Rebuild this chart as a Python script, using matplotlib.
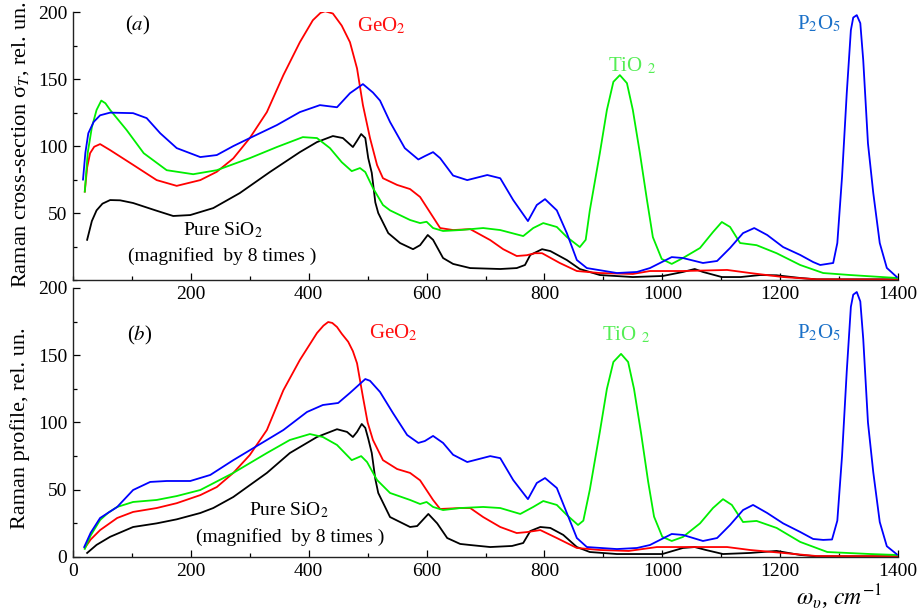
import numpy as np
import matplotlib
matplotlib.use("Agg")
import matplotlib.pyplot as plt
from matplotlib.ticker import MultipleLocator

plt.rcParams['font.family'] = ['Liberation Serif', 'DejaVu Serif']
plt.rcParams['mathtext.fontset'] = 'stix'

# ---- panel (a): Raman cross-section ----
a_sio2_x = [24, 32, 40, 50, 63, 80, 102, 140, 170, 199, 238, 283, 334, 385, 414, 441, 458, 475,
            482, 489, 496, 501, 507, 513, 518, 535, 555, 577, 589, 602, 611, 628, 645, 674, 725,
            753, 767, 776, 796, 810, 838, 860, 894, 950, 1001, 1035, 1055, 1069, 1101, 1133,
            1166, 1194, 1234, 1262, 1398]
a_sio2_y = [30, 44, 52, 57, 59.7, 59.5, 57.5, 52, 47.8, 48.5, 53.7, 64.9, 80.6, 95.5, 103, 107.5,
            106, 99.3, 104, 109, 106, 91, 80, 58, 50, 35, 27.6, 23, 26, 33.6, 30, 16.4, 12, 8.9,
            8.2, 8.9, 11.2, 18.7, 23, 21.6, 14.9, 8.2, 3.7, 2.2, 3, 6, 8.2, 6, 2.2, 2.2, 3.7, 3.5,
            1.5, 0.5, 0.5]

a_geo2_x = [20, 24, 29, 36, 46, 63, 102, 142, 176, 216, 244, 272, 300, 329, 357, 385, 407, 420,
            428, 441, 456, 470, 482, 492, 504, 516, 526, 550, 572, 589, 600, 623, 645, 674, 708,
            730, 753, 770, 784, 796, 826, 855, 894, 950, 979, 1035, 1110, 1149, 1205, 1262, 1398]
a_geo2_y = [66, 84, 94.7, 99.5, 101.5, 97, 86, 74.6, 70.3, 74.6, 80.8, 90.8, 106, 125.4, 153,
            177.6, 194, 199.5, 200.7, 199, 190, 177.6, 158, 130.6, 106, 85.8, 76, 71, 67.9, 62,
            54.5, 38.8, 37.3, 38, 29.8, 23, 17.9, 18.5, 20, 20, 12.7, 6.7, 5.2, 4.5, 6.7, 6.7, 7.5,
            5.2, 2.2, 0.5, 0.3]

a_tio2_x = [20, 25, 32, 40, 48, 55, 63, 91, 120, 159, 204, 244, 300, 346, 390, 414, 436, 456, 473,
            487, 496, 509, 526, 538, 572, 589, 600, 611, 628, 657, 696, 725, 764, 781, 798, 821,
            838, 860, 870, 877, 894, 906, 917, 928, 940, 950, 962, 974, 984, 999, 1016, 1035,
            1064, 1086, 1101, 1115, 1132, 1160, 1194, 1234, 1273, 1319, 1398]
a_tio2_y = [66, 95, 114, 127, 134, 132, 127, 112, 94.7, 82, 79, 82, 91, 99.3, 106.7, 106, 98.5, 88,
            81.3, 83.6, 80.6, 68.7, 56, 52, 44.8, 42.5, 43.5, 38.8, 36.6, 37.3, 38.8, 37.3, 32.8,
            38.8, 42.5, 39.6, 32.1, 24.6, 30, 52, 94.7, 127, 148, 153, 147, 127, 94.7, 59.7, 32,
            15.7, 12, 16.4, 23.9, 35.8, 43.3, 39.6, 27.6, 26, 20, 11.2, 5.2, 3.7, 1.5]

a_p2o5_x = [17, 21, 26, 35, 46, 63, 102, 125, 148, 176, 216, 244, 272, 300, 346, 385, 419, 448,
            470, 492, 509, 521, 538, 563, 586, 597, 611, 623, 645, 669, 703, 725, 747, 772, 787,
            801, 821, 838, 855, 872, 923, 957, 979, 1016, 1035, 1069, 1093, 1115, 1137, 1156,
            1178, 1205, 1234, 1256, 1268, 1290, 1297, 1305, 1313, 1320, 1324, 1330, 1336, 1341,
            1349, 1358, 1369, 1381, 1398]
a_p2o5_y = [75, 95, 109.6, 118, 123, 125, 124.6, 120.9, 109.6, 98.5, 91.8, 93.3, 100, 106, 115.7,
            125.4, 130.6, 129, 139.5, 146.3, 140, 134, 118, 98.5, 90, 92.5, 95.5, 91, 78, 74.6,
            78.4, 76, 59.7, 44, 56, 60.4, 52, 35, 14.9, 8.9, 5.2, 6, 8.9, 17.1, 16.4, 12.7, 14.2,
            23.9, 35, 38.8, 33.6, 24.6, 18.7, 13.4, 11.2, 12.7, 27.6, 77, 139.5, 186.6, 196,
            197.8, 191.8, 164, 102, 65, 27.6, 9, 2.2]

# ---- panel (b): Raman profile ----
b_sio2_x = [24, 40, 63, 102, 142, 176, 216, 238, 272, 329, 368, 414, 448, 465, 475, 482, 490, 496,
            501, 507, 513, 518, 538, 572, 584, 603, 618, 635, 657, 674, 708, 745, 764, 776, 793,
            810, 832, 855, 877, 923, 1000, 1035, 1055, 1074, 1103, 1149, 1194, 1234, 1262, 1398]
b_sio2_y = [3, 9, 15, 22.3, 25, 28, 32.7, 36.4, 44.6, 62.5, 77.3, 89.2, 95, 93, 89.2, 93, 98.9, 96,
            88, 77.3, 58, 47.6, 29.7, 22.3, 23, 32, 25, 14.1, 9.7, 8.9, 7.4, 8.2, 10.4, 19.3, 22.3,
            21.6, 16.4, 7.4, 3.7, 2.2, 2.2, 6.7, 7.4, 5.2, 2.2, 3, 4.5, 1.5, 0.5, 0.5]

b_geo2_x = [20, 30, 46, 75, 102, 142, 176, 216, 244, 272, 300, 329, 357, 385, 414, 425, 433, 440,
            448, 456, 467, 475, 482, 492, 500, 509, 526, 550, 572, 589, 611, 623, 657, 674, 696,
            725, 753, 770, 793, 821, 855, 894, 943, 991, 1035, 1110, 1149, 1205, 1262, 1398]
b_geo2_y = [6.7, 13, 20, 29, 33.5, 36.4, 40, 46, 52, 62.5, 75.8, 94.4, 124, 146.5, 166.5, 172,
            174.7, 174, 171, 166, 160, 153, 144, 119, 100, 87, 72, 65.4, 62.5, 57, 42.4, 35.7,
            36.4, 36.4, 29.7, 22.3, 17.8, 18.5, 20, 14.1, 6.7, 5.2, 4.5, 7.4, 7.4, 7.4, 5.2, 3,
            0.7, 0.5]

b_tio2_x = [20, 30, 46, 60, 75, 102, 142, 176, 216, 272, 329, 368, 402, 424, 448, 473, 489, 499,
            516, 538, 572, 589, 600, 611, 628, 657, 696, 725, 759, 781, 798, 821, 838, 857, 866,
            877, 894, 906, 917, 930, 942, 952, 964, 976, 986, 1000, 1016, 1035, 1064, 1086, 1103,
            1118, 1137, 1160, 1194, 1234, 1280, 1353, 1398]
b_tio2_y = [6, 16, 27.5, 33, 37.2, 40.9, 42.4, 45.3, 49.8, 62.5, 77.3, 87, 91.4, 89.2, 83.3, 72,
            75, 70.6, 57.2, 47.6, 42.4, 39.4, 40.9, 37.2, 34.9, 36.4, 37.2, 36.4, 32, 37.2, 41.6,
            38.7, 31.2, 23.8, 27, 50, 93, 125, 145, 151, 145, 125, 92, 56, 30, 15, 11.9, 14.9, 25,
            36.4, 43, 38.7, 26, 26.8, 21.6, 11.2, 3.7, 2.2, 1.5]

b_p2o5_x = [19, 30, 46, 75, 102, 131, 159, 199, 233, 272, 329, 357, 397, 424, 450, 470, 496, 504,
            521, 543, 567, 586, 597, 611, 628, 645, 669, 708, 725, 747, 772, 787, 801, 821, 838,
            855, 872, 923, 957, 979, 1016, 1035, 1069, 1093, 1115, 1137, 1154, 1178, 1205, 1234,
            1256, 1273, 1288, 1297, 1305, 1313, 1320, 1324, 1330, 1336, 1341, 1349, 1358, 1369,
            1381, 1398]
b_p2o5_y = [7.4, 18, 29, 37.2, 49.8, 55.8, 56.5, 56.5, 61, 72, 87, 94.4, 107.8, 113, 114.5, 122,
            132.3, 131, 122.7, 107, 90.7, 84.8, 86.2, 90, 84.8, 76, 70.6, 75, 73.5, 57.2, 43, 55,
            58.7, 51.3, 32.7, 14.1, 7.4, 5.9, 6.7, 8.9, 17.1, 16.4, 11.9, 14.1, 23.8, 34.9, 38.7,
            32.7, 25, 18.6, 13.4, 12.7, 13, 27, 75, 138, 186, 195, 197, 190, 162, 100, 63, 26, 8,
            2]

LW = 1.3


def style_axis(ax, xticks, yticks):
    ax.set_xlim(0, 1400)
    ax.set_ylim(0, 200)
    ax.spines['top'].set_visible(False)
    ax.spines['right'].set_visible(False)
    for s in ('left', 'bottom'):
        ax.spines[s].set_linewidth(1.0)
        ax.spines[s].set_color('#222222')
    ax.set_xticks(xticks)
    ax.set_yticks(yticks)
    ax.xaxis.set_minor_locator(MultipleLocator(100))
    ax.yaxis.set_minor_locator(MultipleLocator(25))
    ax.tick_params(which='both', direction='in', top=False, right=False, labelsize=14,
                   width=0.9, pad=4)
    ax.tick_params(which='major', length=5)
    ax.tick_params(which='minor', length=3)


fig = plt.figure(figsize=(9.17, 6.10), dpi=100)
ax1 = fig.add_axes([0.0796, 0.541, 0.8997, 0.439])
ax2 = fig.add_axes([0.0796, 0.0869, 0.8997, 0.441])
ax2.set_zorder(0)
ax1.set_zorder(1)
ax1.patch.set_alpha(0)

for ax, data in ((ax1, (a_sio2_x, a_sio2_y, a_geo2_x, a_geo2_y, a_tio2_x, a_tio2_y, a_p2o5_x, a_p2o5_y)),
                 (ax2, (b_sio2_x, b_sio2_y, b_geo2_x, b_geo2_y, b_tio2_x, b_tio2_y, b_p2o5_x, b_p2o5_y))):
    sx, sy, gx, gy, tx, ty, px, py = data
    ax.plot(sx, sy, color='black', lw=LW)
    ax.plot(gx, gy, color='#ff0000', lw=LW)
    ax.plot(tx, ty, color='#00ee00', lw=LW)
    ax.plot(px, py, color='#0000ff', lw=LW)

style_axis(ax1, [200, 400, 600, 800, 1000, 1200, 1400], [50, 100, 150, 200])
style_axis(ax2, [0, 200, 400, 600, 800, 1000, 1200, 1400], [0, 50, 100, 150, 200])

fs = 15
ax1.text(109, 190, r'($\mathit{a}$)', fontsize=fs, ha='center', va='center')
ax1.text(524, 190, r'GeO$_2$', fontsize=fs, ha='center', va='center', color='#ff1010')
ax1.text(949, 160, r'TiO $_2$', fontsize=fs, ha='center', va='center', color='#55ee55')
ax1.text(1266, 191, r'P$_2$O$_5$', fontsize=fs, ha='center', va='center', color='#1a70c8')
ax1.text(255, 37.3, r'Pure SiO$_2$', fontsize=14, ha='center', va='center')
ax1.text(253, 17.9, '(magnified  by 8 times )', fontsize=14, ha='center', va='center')

ax2.text(114, 165, r'($\mathit{b}$)', fontsize=fs, ha='center', va='center')
ax2.text(543, 166.5, r'GeO$_2$', fontsize=fs, ha='center', va='center', color='#ff1010')
ax2.text(938, 165, r'TiO $_2$', fontsize=fs, ha='center', va='center', color='#55ee55')
ax2.text(1266, 166.5, r'P$_2$O$_5$', fontsize=fs, ha='center', va='center', color='#1a70c8')
ax2.text(367, 35, r'Pure SiO$_2$', fontsize=14, ha='center', va='center')
ax2.text(368, 15, '(magnified  by 8 times )', fontsize=14, ha='center', va='center')

fig.text(0.022, 0.762, r'Raman cross-section σ$_T$, rel. un.', rotation=90, fontsize=16,
         ha='center', va='center')
fig.text(0.022, 0.298, 'Raman profile, rel. un.', rotation=90, fontsize=16,
         ha='center', va='center')
fig.text(882 / 917, 1 - 597 / 610, r'$\omega_\upsilon$, $cm^{-1}$', fontsize=17,
         ha='right', va='center')

fig.savefig('out.png', dpi=100)
